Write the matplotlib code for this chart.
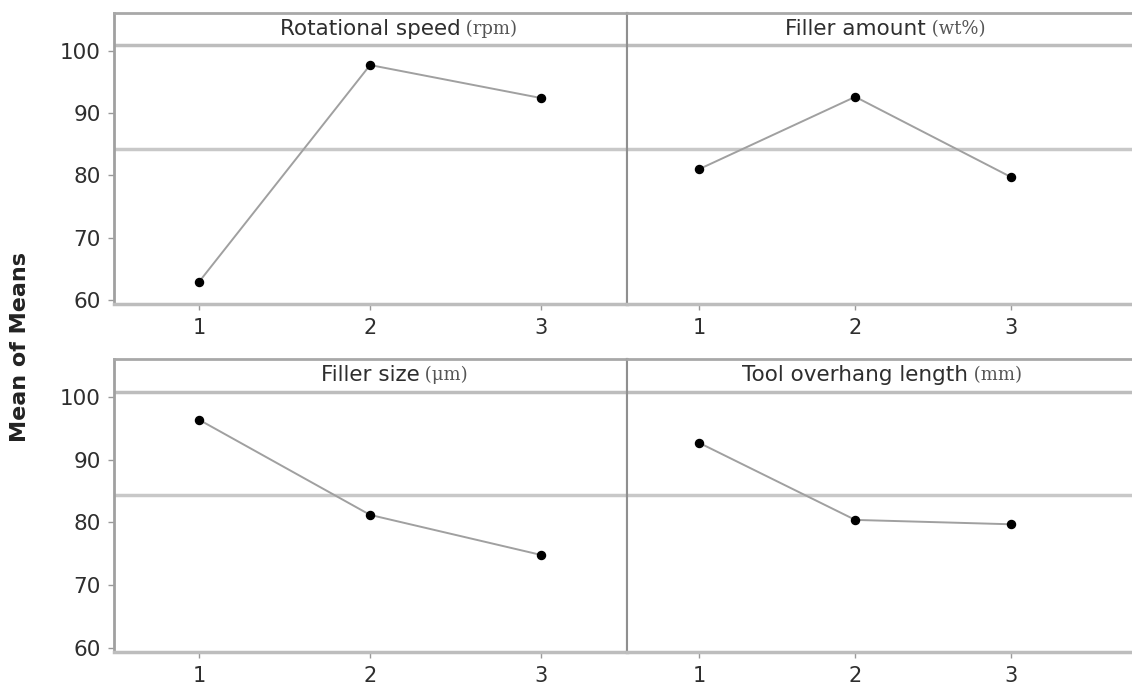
import matplotlib.pyplot as plt

# factor names, units and level labels
factors = ['Rotational speed', 'Filler amount', 'Filler size', 'Tool overhang length']
units = ['(rpm)', '(wt%)', '(\u03bcm)', '(mm)']
levels = [1, 2, 3]

# mean of means for each level
rot_speed = [62.9, 97.7, 92.4]
filler_amount = [81.0, 92.6, 79.7]
filler_size = [96.4, 81.2, 74.8]
overhang = [92.7, 80.4, 79.7]
grand_mean = 84.3

yticks = [60, 70, 80, 90, 100]

means = [rot_speed, filler_amount, filler_size, overhang]

W, H = 1132, 689
fig = plt.figure(figsize=(W / 100, H / 100), dpi=100)

# axes boxes in pixels: (left, top, right, bottom)
boxes = [(113.5, 12.7, 626.7, 304.0),
         (626.7, 12.7, 1132.0, 304.0),
         (113.5, 359.0, 626.7, 651.7),
         (626.7, 359.0, 1132.0, 651.7)]
xlims = [(0.5, 3.5), (0.535, 3.774), (0.5, 3.5), (0.535, 3.774)]
ylim = (59.35, 106.1)
strip_y = 100.9

txt = '#2e2e2e'

for i, (l, t, r, b) in enumerate(boxes):
    ax = fig.add_axes([l / W, 1 - b / H, (r - l) / W, (b - t) / H])
    ax.set_xlim(*xlims[i])
    ax.set_ylim(*ylim)

    ax.axhline(grand_mean, color='#c8c8c8', lw=2.5, zorder=1)
    ax.axhline(strip_y, color='#bdbdbd', lw=2.5, zorder=1)
    ax.plot(levels, means[i], color='#a0a0a0', lw=1.4, zorder=2)
    ax.plot(levels, means[i], 'o', color='black', ms=5.8, zorder=3)

    name = ax.text(2, (strip_y + ylim[1]) / 2, factors[i], ha='center', va='center',
                   fontsize=15.5, color=txt)
    ax.annotate(' ' + units[i], xy=(1, 0.5), xycoords=name, ha='left', va='center',
                fontsize=13, color='#555555', family='DejaVu Serif')

    ax.set_xticks(levels)
    ax.set_xticklabels([str(v) for v in levels], fontsize=15, color=txt)
    ax.tick_params(axis='x', length=4, width=1, color='#999999', pad=6)

    ax.set_yticks(yticks)
    if i % 2 == 0:
        ax.set_yticklabels([str(v) for v in yticks], fontsize=15.5, color=txt)
        ax.tick_params(axis='y', length=4, width=1, color='#999999', pad=5)
    else:
        ax.tick_params(axis='y', length=0, labelleft=False)

    ax.spines['top'].set_color('#a8a8a8')
    ax.spines['top'].set_linewidth(2)
    ax.spines['bottom'].set_color('#bdbdbd')
    ax.spines['bottom'].set_linewidth(2.5)
    ax.spines['left'].set_color('#a0a0a0' if i % 2 == 0 else '#8f8f8f')
    ax.spines['left'].set_linewidth(2 if i % 2 == 0 else 1.5)
    ax.spines['right'].set_visible(i % 2 == 0)
    ax.spines['right'].set_color('#8f8f8f')
    ax.spines['right'].set_linewidth(1.5)

fig.text(20 / W, 1 - 347 / H, 'Mean of Means', rotation=90, ha='center', va='center',
         fontsize=16, fontweight='bold', color='#222222')

fig.savefig('out.png', dpi=100)
